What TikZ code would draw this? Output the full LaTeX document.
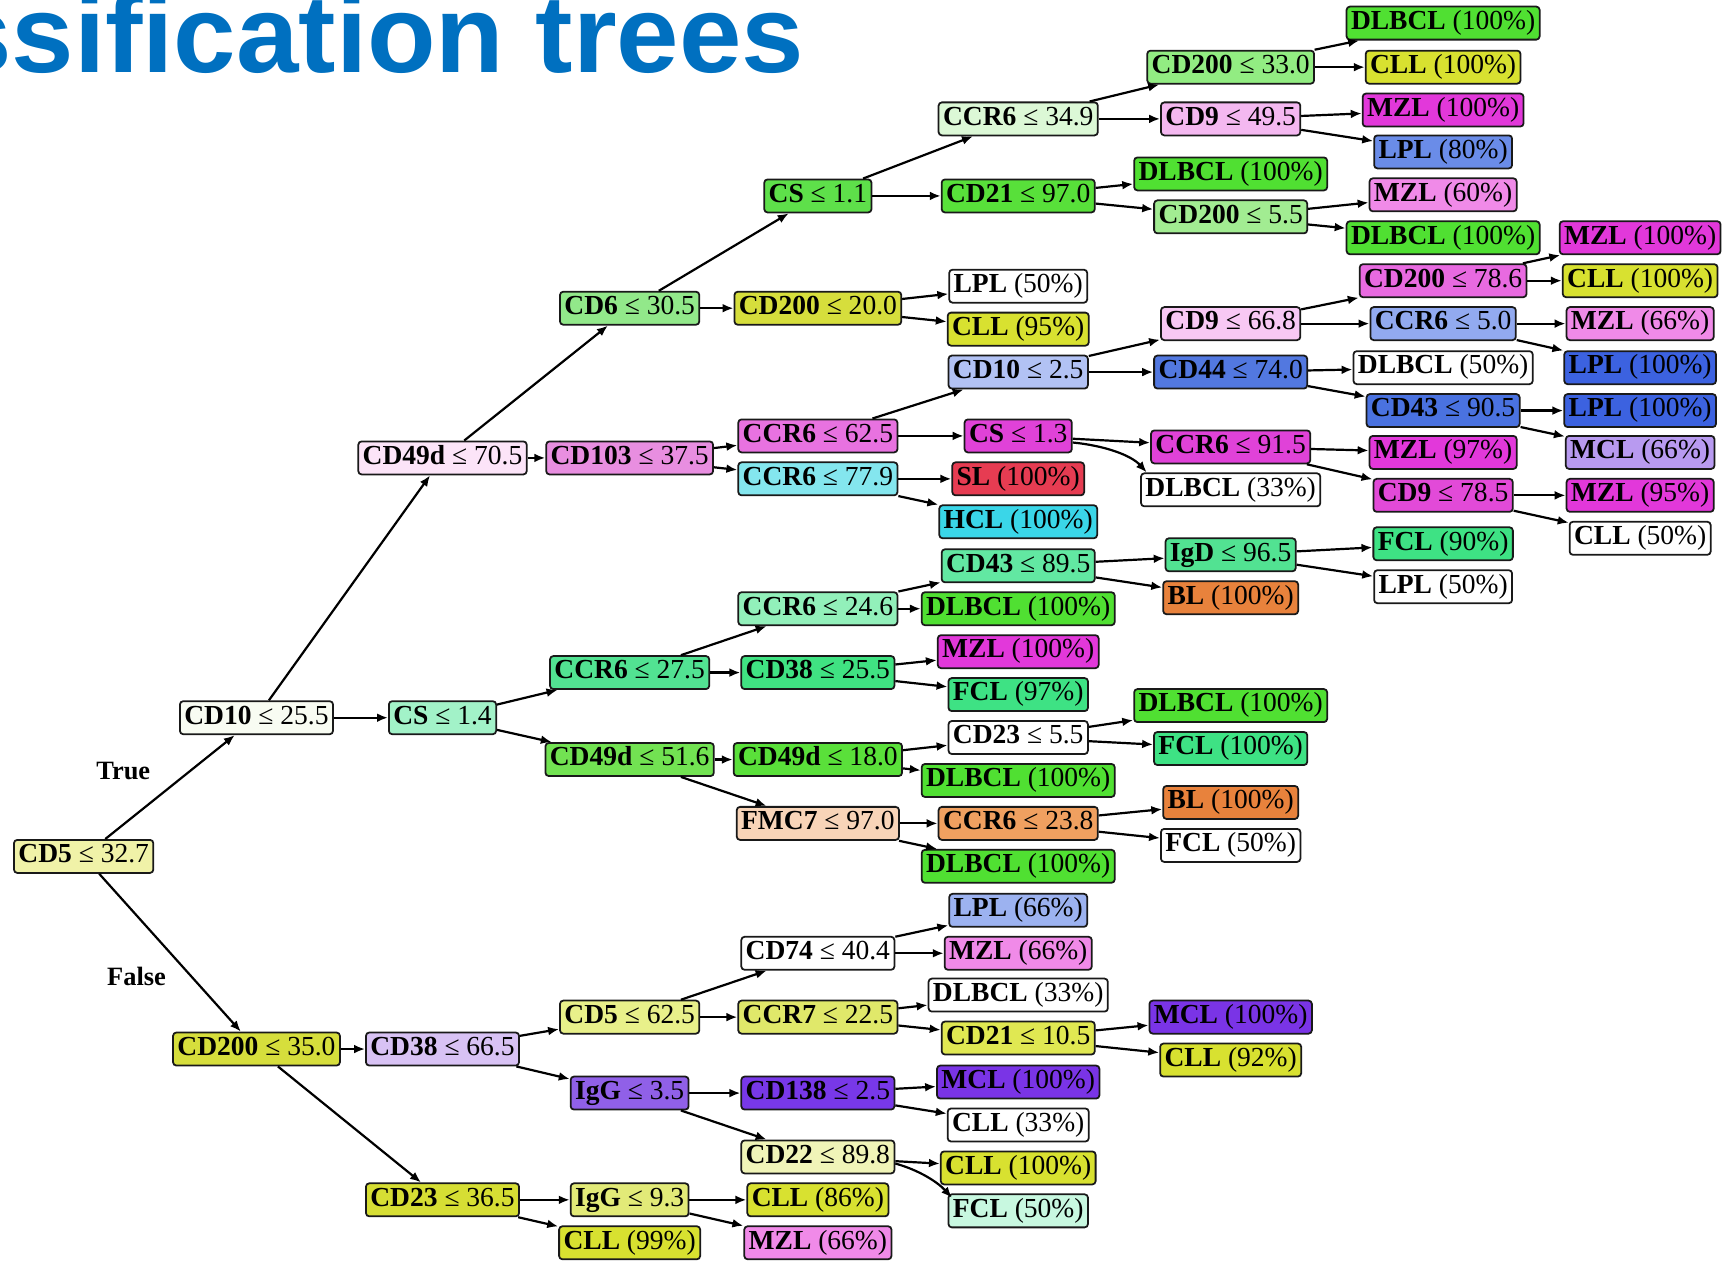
\documentclass[tikz,border=0pt]{standalone}
\usepackage{fontspec}
\usepackage{graphicx}
\setmainfont{Liberation Serif}
\newfontfamily\titlefont{Liberation Sans}
\usetikzlibrary{arrows.meta}

% class colours
\definecolor{dlbcl}{HTML}{50E032}
\definecolor{cll}{HTML}{D8E130}
\definecolor{mzl}{HTML}{E238DA}
\definecolor{mzlp}{HTML}{F08AE8}
\definecolor{lpl}{HTML}{3C62E0}
\definecolor{lplm}{HTML}{6A8CE8}
\definecolor{lpll}{HTML}{9CB2F0}
\definecolor{mcl}{HTML}{7A34E6}
\definecolor{mcll}{HTML}{B89AF0}
\definecolor{fcl}{HTML}{3EE284}
\definecolor{fcll}{HTML}{C8F8E0}
\definecolor{bl}{HTML}{E8823C}
\definecolor{sl}{HTML}{E63C52}
\definecolor{hcl}{HTML}{3AD6E8}
\definecolor{titleblue}{HTML}{0070C0}

\begin{document}
\begin{tikzpicture}[x=1pt,y=-1pt,
  box/.style={draw=black!90, line width=1.6pt, rounded corners=3pt,
    minimum height=30pt, inner xsep=4pt, inner ysep=2pt,
    text height=17pt, text depth=5.5pt, font=\fontsize{25}{28}\selectfont},
  edge/.style={line width=2pt, -{Latex[length=10pt,width=8pt]}},
  lab/.style={font=\fontsize{24}{28}\selectfont\bfseries}]

\useasboundingbox (0,0) rectangle (1568,1146);
\clip (0,0) rectangle (1568,1146);

% heading (bold sans, partly beyond the left edge)
\node[anchor=base west, inner sep=0pt, text=titleblue,
  font=\titlefont\bfseries\fontsize{100}{110}\selectfont] (title) at (-205,66)
  {\scalebox{1.02}[1]{Classification trees}};

% root and first split
\node[box, fill={rgb,255:red,240;green,242;blue,168}] (a0) at (76,778) {\textbf{CD5} ≤ 32.7};
\node[box, fill={rgb,255:red,248;green,252;blue,242}] (a1) at (233,652) {\textbf{CD10} ≤ 25.5};
\node[box, fill={rgb,255:red,214;green,222;blue,60}] (a2) at (233,953) {\textbf{CD200} ≤ 35.0};

% column b
\node[box, fill={rgb,255:red,252;green,228;blue,248}] (b1) at (402,416) {\textbf{CD49d} ≤ 70.5};
\node[box, fill={rgb,255:red,162;green,242;blue,200}] (b2) at (402,652) {\textbf{CS} ≤ 1.4};
\node[box, fill={rgb,255:red,216;green,194;blue,244}] (b3) at (402,953) {\textbf{CD38} ≤ 66.5};
\node[box, fill={rgb,255:red,214;green,222;blue,52}] (b4) at (402,1090) {\textbf{CD23} ≤ 36.5};

% column c
\node[box, fill={rgb,255:red,146;green,232;blue,138}] (c1) at (572,280) {\textbf{CD6} ≤ 30.5};
\node[box, fill={rgb,255:red,232;green,142;blue,224}] (c2) at (572,416) {\textbf{CD103} ≤ 37.5};
\node[box, fill={rgb,255:red,82;green,226;blue,146}] (c3) at (572,611) {\textbf{CCR6} ≤ 27.5};
\node[box, fill={rgb,255:red,114;green,226;blue,82}] (c4) at (572,690) {\textbf{CD49d} ≤ 51.6};
\node[box, fill={rgb,255:red,232;green,240;blue,138}] (c5) at (572,924) {\textbf{CD5} ≤ 62.5};
\node[box, fill={rgb,255:red,144;green,96;blue,232}] (c6) at (572,993) {\textbf{IgG} ≤ 3.5};
\node[box, fill={rgb,255:red,226;green,234;blue,120}] (c7) at (572,1090) {\textbf{IgG} ≤ 9.3};
\node[box, fill=cll] (c8) at (572,1129) {\textbf{CLL} (99\%)};

% column d
\node[box, fill={rgb,255:red,94;green,224;blue,74}] (d1) at (743,178) {\textbf{CS} ≤ 1.1};
\node[box, fill={rgb,255:red,214;green,222;blue,60}] (d2) at (743,280) {\textbf{CD200} ≤ 20.0};
\node[box, fill={rgb,255:red,232;green,114;blue,224}] (d3) at (743,396) {\textbf{CCR6} ≤ 62.5};
\node[box, fill={rgb,255:red,132;green,230;blue,238}] (d4) at (743,435) {\textbf{CCR6} ≤ 77.9};
\node[box, fill={rgb,255:red,146;green,240;blue,186}] (d5) at (743,553) {\textbf{CCR6} ≤ 24.6};
\node[box, fill={rgb,255:red,64;green,226;blue,130}] (d6) at (743,611) {\textbf{CD38} ≤ 25.5};
\node[box, fill={rgb,255:red,90;green,224;blue,58}] (d7) at (743,690) {\textbf{CD49d} ≤ 18.0};
\node[box, fill={rgb,255:red,248;green,212;blue,184}] (d8) at (743,748) {\textbf{FMC7} ≤ 97.0};
\node[box, fill=white] (d9) at (743,866) {\textbf{CD74} ≤ 40.4};
\node[box, fill={rgb,255:red,224;green,232;blue,106}] (d10) at (743,924) {\textbf{CCR7} ≤ 22.5};
\node[box, fill={rgb,255:red,120;green,56;blue,232}] (d11) at (743,993) {\textbf{CD138} ≤ 2.5};
\node[box, fill={rgb,255:red,240;green,244;blue,184}] (d12) at (743,1051) {\textbf{CD22} ≤ 89.8};
\node[box, fill=cll] (d13) at (743,1090) {\textbf{CLL} (86\%)};
\node[box, fill=mzlp] (d14) at (743,1129) {\textbf{MZL} (66\%)};

% column e
\node[box, fill={rgb,255:red,220;green,248;blue,214}] (e1) at (925,108) {\textbf{CCR6} ≤ 34.9};
\node[box, fill={rgb,255:red,88;green,224;blue,58}] (e2) at (925,178) {\textbf{CD21} ≤ 97.0};
\node[box, fill=white] (e3) at (925,260) {\textbf{LPL} (50\%)};
\node[box, fill=cll] (e4) at (925,299) {\textbf{CLL} (95\%)};
\node[box, fill={rgb,255:red,178;green,194;blue,244}] (e5) at (925,338) {\textbf{CD10} ≤ 2.5};
\node[box, fill={rgb,255:red,224;green,66;blue,216}] (e6) at (925,396) {\textbf{CS} ≤ 1.3};
\node[box, fill=sl] (e7) at (925,435) {\textbf{SL} (100\%)};
\node[box, fill=hcl] (e8) at (925,474) {\textbf{HCL} (100\%)};
\node[box, fill={rgb,255:red,98;green,232;blue,162}] (e9) at (925,514) {\textbf{CD43} ≤ 89.5};
\node[box, fill=dlbcl] (e10) at (925,553) {\textbf{DLBCL} (100\%)};
\node[box, fill=mzl] (e11) at (925,592) {\textbf{MZL} (100\%)};
\node[box, fill=fcl] (e12) at (925,631) {\textbf{FCL} (97\%)};
\node[box, fill=white] (e13) at (925,670) {\textbf{CD23} ≤ 5.5};
\node[box, fill=dlbcl] (e14) at (925,709) {\textbf{DLBCL} (100\%)};
\node[box, fill={rgb,255:red,240;green,160;blue,96}] (e15) at (925,748) {\textbf{CCR6} ≤ 23.8};
\node[box, fill=dlbcl] (e16) at (925,787) {\textbf{DLBCL} (100\%)};
\node[box, fill=lpll] (e17) at (925,827) {\textbf{LPL} (66\%)};
\node[box, fill=mzlp] (e18) at (925,866) {\textbf{MZL} (66\%)};
\node[box, fill=white] (e19) at (925,904) {\textbf{DLBCL} (33\%)};
\node[box, fill={rgb,255:red,224;green,232;blue,82}] (e20) at (925,943) {\textbf{CD21} ≤ 10.5};
\node[box, fill=mcl] (e21) at (925,983) {\textbf{MCL} (100\%)};
\node[box, fill=white] (e22) at (925,1022) {\textbf{CLL} (33\%)};
\node[box, fill=cll] (e23) at (925,1061) {\textbf{CLL} (100\%)};
\node[box, fill=fcll] (e24) at (925,1100) {\textbf{FCL} (50\%)};

% column f
\node[box, fill={rgb,255:red,146;green,236;blue,130}] (f1) at (1118,61) {\textbf{CD200} ≤ 33.0};
\node[box, fill={rgb,255:red,244;green,184;blue,240}] (f2) at (1118,108) {\textbf{CD9} ≤ 49.5};
\node[box, fill=dlbcl] (f3) at (1118,158) {\textbf{DLBCL} (100\%)};
\node[box, fill={rgb,255:red,162;green,236;blue,146}] (f4) at (1118,197) {\textbf{CD200} ≤ 5.5};
\node[box, fill={rgb,255:red,248;green,200;blue,244}] (f5) at (1118,294) {\textbf{CD9} ≤ 66.8};
\node[box, fill={rgb,255:red,82;green,120;blue,224}] (f6) at (1118,338) {\textbf{CD44} ≤ 74.0};
\node[box, fill={rgb,255:red,224;green,66;blue,216}] (f7) at (1118,406) {\textbf{CCR6} ≤ 91.5};
\node[box, fill=white] (f8) at (1118,445) {\textbf{DLBCL} (33\%)};
\node[box, fill={rgb,255:red,82;green,226;blue,146}] (f9) at (1118,504) {\textbf{IgD} ≤ 96.5};
\node[box, fill=bl] (f10) at (1118,543) {\textbf{BL} (100\%)};
\node[box, fill=dlbcl] (f11) at (1118,641) {\textbf{DLBCL} (100\%)};
\node[box, fill=fcl] (f12) at (1118,680) {\textbf{FCL} (100\%)};
\node[box, fill=bl] (f13) at (1118,729) {\textbf{BL} (100\%)};
\node[box, fill=white] (f14) at (1118,768) {\textbf{FCL} (50\%)};
\node[box, fill=mcl] (f15) at (1118,924) {\textbf{MCL} (100\%)};
\node[box, fill=cll] (f16) at (1118,963) {\textbf{CLL} (92\%)};

% column g
\node[box, fill=dlbcl] (g1) at (1311,21) {\textbf{DLBCL} (100\%)};
\node[box, fill=cll] (g2) at (1311,61) {\textbf{CLL} (100\%)};
\node[box, fill=mzl] (g3) at (1311,100) {\textbf{MZL} (100\%)};
\node[box, fill=lplm] (g4) at (1311,138) {\textbf{LPL} (80\%)};
\node[box, fill=mzlp] (g5) at (1311,177) {\textbf{MZL} (60\%)};
\node[box, fill=dlbcl] (g6) at (1311,216) {\textbf{DLBCL} (100\%)};
\node[box, fill={rgb,255:red,232;green,106;blue,224}] (g7) at (1311,255) {\textbf{CD200} ≤ 78.6};
\node[box, fill={rgb,255:red,146;green,170;blue,240}] (g8) at (1311,294) {\textbf{CCR6} ≤ 5.0};
\node[box, fill=white] (g9) at (1311,334) {\textbf{DLBCL} (50\%)};
\node[box, fill={rgb,255:red,74;green,114;blue,224}] (g10) at (1311,373) {\textbf{CD43} ≤ 90.5};
\node[box, fill=mzl] (g11) at (1311,411) {\textbf{MZL} (97\%)};
\node[box, fill={rgb,255:red,226;green,74;blue,216}] (g12) at (1311,450) {\textbf{CD9} ≤ 78.5};
\node[box, fill=fcl] (g13) at (1311,494) {\textbf{FCL} (90\%)};
\node[box, fill=white] (g14) at (1311,533) {\textbf{LPL} (50\%)};

% column h
\node[box, fill=mzl] (h1) at (1490,216) {\textbf{MZL} (100\%)};
\node[box, fill=cll] (h2) at (1490,255) {\textbf{CLL} (100\%)};
\node[box, fill=mzlp] (h3) at (1490,294) {\textbf{MZL} (66\%)};
\node[box, fill=lpl] (h4) at (1490,334) {\textbf{LPL} (100\%)};
\node[box, fill=lpl] (h5) at (1490,373) {\textbf{LPL} (100\%)};
\node[box, fill=mcll] (h6) at (1490,411) {\textbf{MCL} (66\%)};
\node[box, fill=mzl] (h7) at (1490,450) {\textbf{MZL} (95\%)};
\node[box, fill=white] (h8) at (1490,489) {\textbf{CLL} (50\%)};

% branch labels
\node[lab] (ltrue) at (112,700) {True};
\node[lab] (lfalse) at (124,887) {False};

% connectors
\foreach \p/\c in {a0/a1,a0/a2,a1/b1,a1/b2,b1/c1,b1/c2,c1/d1,c1/d2,
  d1/e1,d1/e2,e1/f1,e1/f2,f1/g1,f1/g2,f2/g3,f2/g4,e2/f3,e2/f4,f4/g5,f4/g6,
  d2/e3,d2/e4,c2/d3,c2/d4,d3/e5,d3/e6,e5/f5,e5/f6,f5/g7,f5/g8,g7/h1,g7/h2,
  g8/h3,g8/h4,f6/g9,f6/g10,g10/h5,g10/h6,e6/f7,f7/g11,f7/g12,g12/h7,g12/h8,
  d4/e7,d4/e8,b2/c3,b2/c4,c3/d5,c3/d6,d5/e9,d5/e10,e9/f9,e9/f10,f9/g13,f9/g14,
  d6/e11,d6/e12,c4/d7,c4/d8,d7/e13,d7/e14,e13/f11,e13/f12,d8/e15,d8/e16,
  e15/f13,e15/f14,a2/b3,a2/b4,b3/c5,b3/c6,c5/d9,c5/d10,d9/e17,d9/e18,
  d10/e19,d10/e20,e20/f15,e20/f16,c6/d11,c6/d12,d11/e21,d11/e22,d12/e23,
  b4/c7,b4/c8,c7/d13,c7/d14}
  \draw[edge] (\p) -- (\c);

% two bent connectors
\draw[edge] ([yshift=-6pt]e6.east) .. controls (1005,405) and (1028,414)
  .. ([xshift=6pt]f8.north west);
\draw[edge] ([yshift=-6pt]d12.east) .. controls (835,1063) and (852,1074)
  .. ([xshift=4pt,yshift=-4pt]e24.north west);

\end{tikzpicture}
\end{document}
